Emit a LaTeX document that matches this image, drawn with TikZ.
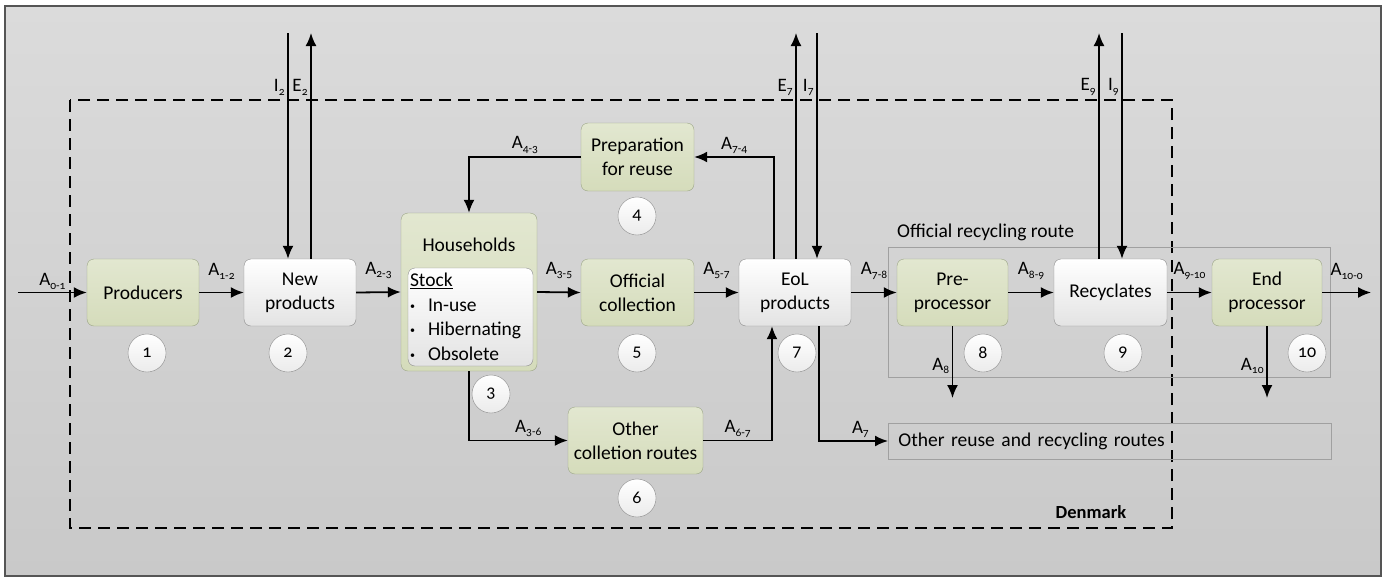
\documentclass[tikz,border=0pt]{standalone}
\usepackage{fontspec}
\setmainfont[Numbers=OldStyle]{Carlito}
\usetikzlibrary{arrows.meta}
\newcommand{\fl}[1]{A\raisebox{-3.5pt}{\fontsize{11.5}{12}\selectfont#1}}
\newcommand{\fe}[2]{#1\raisebox{-3.5pt}{\fontsize{11.5}{12}\selectfont#2}}
\newcommand{\itm}{\makebox[18pt][l]{\raisebox{2pt}{\fontsize{10}{10}\selectfont\textbullet}}}

\begin{document}
\begin{tikzpicture}[x=1pt,y=-1pt,
  box/.style={rounded corners=7pt,minimum height=67pt,align=center,inner sep=2pt,font=\fontsize{19.5}{24}\selectfont},
  greenbox/.style={box,draw=cgline,top color=cgtop,bottom color=cgbot},
  greybox/.style={box,draw=cwline,top color=white,bottom color=cwbot},
  num/.style={circle,draw=cnline,top color=white,bottom color=cnbot,minimum size=38pt,inner sep=0pt,font=\fontsize{18}{18}\selectfont},
  flow/.style={-{Latex[length=13pt,width=11pt]},line width=1.8pt},
  lbl/.style={font=\fontsize{19}{19}\selectfont,inner sep=2.5pt},
  high/.style={yshift=10pt},
  route/.style={draw=crline,line width=0.8pt},
  boundary/.style={line width=1.7pt,dash pattern=on 12pt off 7pt}]
%
\useasboundingbox (0,0) rectangle (1386,579);
%
\definecolor{cbgtop}{HTML}{DBDBDB}
\definecolor{cbgbot}{HTML}{C9C9C9}
\definecolor{cframe}{HTML}{555555}
\definecolor{cgtop}{HTML}{E2E7D0}
\definecolor{cgbot}{HTML}{D5DCBB}
\definecolor{cgline}{HTML}{9AA485}
\definecolor{cwbot}{HTML}{E3E3E3}
\definecolor{cwline}{HTML}{8C8C8C}
\definecolor{cnbot}{HTML}{EBEBEB}
\definecolor{cnline}{HTML}{8C8C8C}
\definecolor{crline}{HTML}{A0A0A0}
%
% frame, system boundary, route boxes
\draw[draw=cframe,line width=1.5pt,top color=cbgtop,bottom color=cbgbot] (5,6) rectangle (1381,576);
\draw[boundary] (70,100) rectangle (1172,528);
\draw[route] (888,247) rectangle (1330,377);
\node[route,anchor=west,minimum width=443pt,minimum height=36pt,text width=423pt,inner xsep=10pt,align=left,font=\fontsize{19.5}{24}\selectfont] (otherr) at (888,441) {Other reuse and recycling routes};
\node[anchor=south west,inner sep=0pt,font=\fontsize{19.5}{24}\selectfont] (orr) at (897,241) {Official recycling route};
\node[font=\fontsize{18.5}{20}\selectfont\bfseries] (dk) at (1091,512) {Denmark};
%
% processes
\node[greenbox,minimum width=112pt] (prod) at (143,292.5) {Producers};
\node[greybox,minimum width=112pt] (newp) at (300,292.5) {New\\products};
\node[greenbox,minimum width=136pt,minimum height=158pt] (house) at (469,292) {};
\node[font=\fontsize{19.5}{24}\selectfont] (houselbl) at (469,245) {Households};
\node[greybox,minimum width=125pt,minimum height=98pt,text width=121pt,inner sep=2pt,align=left,font=\fontsize{19.5}{24.5}\selectfont] (stock) at (470.5,317) {\underline{Stock}\\\itm In-use\\\itm Hibernating\\\itm Obsolete};
\node[greenbox,minimum width=113pt,minimum height=68pt] (prep) at (637.5,157) {Preparation\\for reuse};
\node[greenbox,minimum width=113pt] (offc) at (637.5,292.5) {Official\\collection};
\node[greenbox,minimum width=135pt] (other) at (635.5,440.5) {Other\\colletion routes};
\node[greybox,minimum width=112pt] (eol) at (795,292.5) {EoL\\products};
\node[greenbox,minimum width=111pt] (pre) at (952.5,292.5) {Pre-\\processor};
\node[greybox,minimum width=113pt] (recy) at (1110.5,292.5) {Recyclates};
\node[greenbox,minimum width=110pt] (endp) at (1267,292.5) {End\\processor};
%
% numbers
\node[num] (n1) at (147,353) {1};
\node[num] (n2) at (288,353) {2};
\node[num] (n3) at (491,394) {3};
\node[num] (n4) at (637,216) {4};
\node[num] (n5) at (637,353) {5};
\node[num] (n6) at (637,498) {6};
\node[num] (n7) at (797,353) {7};
\node[num] (n8) at (983,353) {8};
\node[num] (n9) at (1123,353) {9};
\node[num] (n10) at (1307,353) {10};
%
% free ends
\coordinate (in01) at (18,292.5);
\coordinate (out100) at (1371,292.5);
\coordinate (i2) at (288,33);
\coordinate (e2) at (311,33);
\coordinate (e7) at (796,33);
\coordinate (i7) at (817,33);
\coordinate (e9) at (1099,33);
\coordinate (i9) at (1122,33);
\coordinate (a8) at (952.5,398);
\coordinate (a10) at (1267,398);
%
% flows
\draw[flow] (in01) -- (prod.west) node[lbl,midway,above] {\fl{0-1}};
\draw[flow] (prod.east) -- (newp.west) node[lbl,high,midway,above] {\fl{1-2}};
\draw[flow] (newp.east) -- (house.west) node[lbl,high,midway,above] {\fl{2-3}};
\draw[flow] (house.east) -- (offc.west) node[lbl,high,midway,above] {\fl{3-5}};
\draw[flow] (offc.east) -- (eol.west) node[lbl,high,midway,above] {\fl{5-7}};
\draw[flow] (eol.east) -- (pre.west) node[lbl,high,midway,above] {\fl{7-8}};
\draw[flow] (pre.east) -- (recy.west) node[lbl,high,midway,above] {\fl{8-9}};
\draw[flow] (recy.east) -- (endp.west) node[lbl,high,midway,above] {\fl{9-10}};
\draw[flow] (endp.east) -- (out100) node[lbl,high,midway,above] {\fl{10-0}};
%
\draw[flow] (i2) -- (newp.north -| i2) node[lbl,pos=0.24,left] {\fe{I}{2}};
\draw[flow] (newp.north -| e2) -- (e2) node[lbl,pos=0.76,left] {\fe{E}{2}};
\draw[flow] (eol.north -| e7) -- (e7) node[lbl,pos=0.76,left] {\fe{E}{7}};
\draw[flow] (i7) -- (eol.north -| i7) node[lbl,pos=0.24,left] {\fe{I}{7}};
\draw[flow] (recy.north -| e9) -- (e9) node[lbl,pos=0.76,left] {\fe{E}{9}};
\draw[flow] (i9) -- (recy.north -| i9) node[lbl,pos=0.24,left] {\fe{I}{9}};
%
\draw[flow] ([xshift=-21pt]eol.north) |- (prep.east) node[lbl,pos=0.75,above] {\fl{7-4}};
\draw[flow] (prep.west) -| (house.north) node[lbl,pos=0.25,above] {\fl{4-3}};
\draw[flow] (house.south) |- (other.west) node[lbl,pos=0.8,above] {\fl{3-6}};
\draw[flow] (other.east) -| ([xshift=-23pt]eol.south) node[lbl,pos=0.25,above] {\fl{6-7}};
\draw[flow] ([xshift=24pt]eol.south) |- (otherr.west) node[lbl,pos=0.8,above] {\fl{7}};
\draw[flow] (pre.south) -- (a8) node[lbl,pos=0.55,left] {\fl{8}};
\draw[flow] (endp.south) -- (a10) node[lbl,pos=0.55,left] {\fl{10}};
%
\end{tikzpicture}
\end{document}
